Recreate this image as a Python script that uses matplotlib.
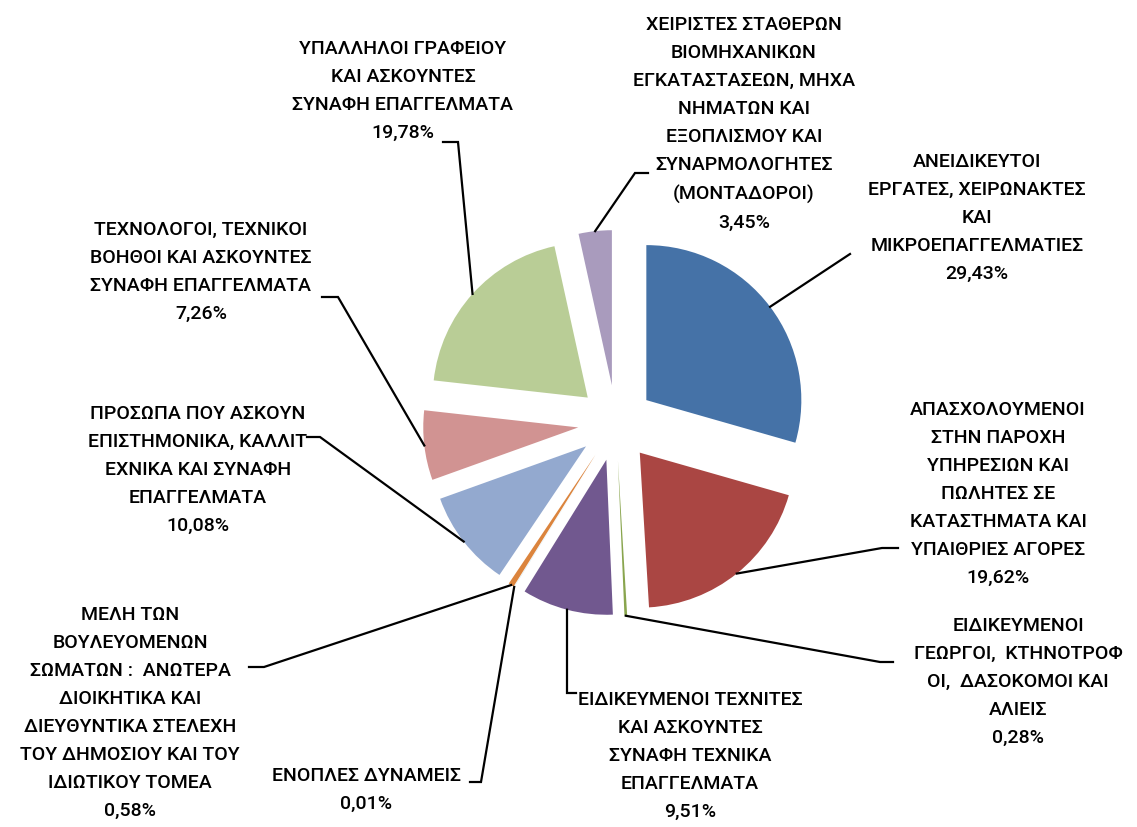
import numpy as np
import matplotlib.pyplot as plt

# δεδομένα (ποσοστά ανά ομάδα επαγγελμάτων)
labels = [
    "ΑΝΕΙΔΙΚΕΥΤΟΙ\nΕΡΓΑΤΕΣ, ΧΕΙΡΩΝΑΚΤΕΣ\nΚΑΙ\nΜΙΚΡΟΕΠΑΓΓΕΛΜΑΤΙΕΣ",
    "ΑΠΑΣΧΟΛΟΥΜΕΝΟΙ\nΣΤΗΝ ΠΑΡΟΧΗ\nΥΠΗΡΕΣΙΩΝ ΚΑΙ\nΠΩΛΗΤΕΣ ΣΕ\nΚΑΤΑΣΤΗΜΑΤΑ ΚΑΙ\nΥΠΑΙΘΡΙΕΣ ΑΓΟΡΕΣ",
    "ΕΙΔΙΚΕΥΜΕΝΟΙ\nΓΕΩΡΓΟΙ,  ΚΤΗΝΟΤΡΟΦ\nΟΙ,  ΔΑΣΟΚΟΜΟΙ ΚΑΙ\nΑΛΙΕΙΣ",
    "ΕΙΔΙΚΕΥΜΕΝΟΙ ΤΕΧΝΙΤΕΣ\nΚΑΙ ΑΣΚΟΥΝΤΕΣ\nΣΥΝΑΦΗ ΤΕΧΝΙΚΑ\nΕΠΑΓΓΕΛΜΑΤΑ",
    "ΕΝΟΠΛΕΣ ΔΥΝΑΜΕΙΣ",
    "ΜΕΛΗ ΤΩΝ\nΒΟΥΛΕΥΟΜΕΝΩΝ\nΣΩΜΑΤΩΝ :  ΑΝΩΤΕΡΑ\nΔΙΟΙΚΗΤΙΚΑ ΚΑΙ\nΔΙΕΥΘΥΝΤΙΚΑ ΣΤΕΛΕΧΗ\nΤΟΥ ΔΗΜΟΣΙΟΥ ΚΑΙ ΤΟΥ\nΙΔΙΩΤΙΚΟΥ ΤΟΜΕΑ",
    "ΠΡΟΣΩΠΑ ΠΟΥ ΑΣΚΟΥΝ\nΕΠΙΣΤΗΜΟΝΙΚΑ, ΚΑΛΛΙΤ\nΕΧΝΙΚΑ ΚΑΙ ΣΥΝΑΦΗ\nΕΠΑΓΓΕΛΜΑΤΑ",
    "ΤΕΧΝΟΛΟΓΟΙ, ΤΕΧΝΙΚΟΙ\nΒΟΗΘΟΙ ΚΑΙ ΑΣΚΟΥΝΤΕΣ\nΣΥΝΑΦΗ ΕΠΑΓΓΕΛΜΑΤΑ",
    "ΥΠΑΛΛΗΛΟΙ ΓΡΑΦΕΙΟΥ\nΚΑΙ ΑΣΚΟΥΝΤΕΣ\nΣΥΝΑΦΗ ΕΠΑΓΓΕΛΜΑΤΑ",
    "ΧΕΙΡΙΣΤΕΣ ΣΤΑΘΕΡΩΝ\nΒΙΟΜΗΧΑΝΙΚΩΝ\nΕΓΚΑΤΑΣΤΑΣΕΩΝ, ΜΗΧΑ\nΝΗΜΑΤΩΝ ΚΑΙ\nΕΞΟΠΛΙΣΜΟΥ ΚΑΙ\nΣΥΝΑΡΜΟΛΟΓΗΤΕΣ\n(ΜΟΝΤΑΔΟΡΟΙ)",
]
values = [29.43, 19.62, 0.28, 9.51, 0.01, 0.58, 10.08, 7.26, 19.78, 3.45]
colors = ["#4572A7", "#AA4643", "#89A54E", "#71588F", "#4198AF",
          "#DB843D", "#93A9CF", "#D19392", "#B9CD96", "#A99BBD"]

# θέσεις ετικετών (κέντρο κειμένου) και σημεία γραμμών οδηγών, σε pixel
label_pos = [(977, 218), (998, 494), (1018, 682), (690, 756), (366, 790),
             (130, 713), (198, 470), (201, 272), (403, 91), (744, 124)]
leader_pts = [
    [(850, 254)],
    [(882, 548), (898, 548)],
    [(880, 662), (893, 662)],
    [(567, 693), (576, 693)],
    [(481, 782), (470, 782)],
    [(264, 667), (249, 667)],
    [(320, 437), (307, 437)],
    [(338, 297), (322, 297)],
    [(458, 142), (443, 142)],
    [(635, 173), (648, 173)],
]

W, H = 1137, 827
fig = plt.figure(figsize=(W / 100, H / 100), dpi=100)
ax = fig.add_axes([0, 0, 1, 1])

wedges, _ = ax.pie(values, colors=colors, startangle=-90, counterclock=True,
                   radius=155, center=(616, 423), explode=[38] * len(values),
                   wedgeprops=dict(linewidth=0))
ax.set_xlim(0, W)
ax.set_ylim(H, 0)
ax.set_aspect("equal")
ax.axis("off")

for w, lab, v, (tx, ty), pts in zip(wedges, labels, values, label_pos, leader_pts):
    tm = np.deg2rad((w.theta1 + w.theta2) / 2)
    x0 = w.center[0] + w.r * np.cos(tm)
    y0 = w.center[1] + w.r * np.sin(tm)
    xs = [x0] + [p[0] for p in pts]
    ys = [y0] + [p[1] for p in pts]
    ax.plot(xs, ys, color="black", lw=1.6, solid_joinstyle="miter")
    txt = lab + "\n" + f"{v:.2f}%".replace(".", ",")
    ax.text(tx, ty, txt, ha="center", va="center", multialignment="center",
            fontsize=14, linespacing=1.72, color="black", fontweight="medium",
            family=["Roboto", "DejaVu Sans"])

fig.savefig("out.png", dpi=100)
